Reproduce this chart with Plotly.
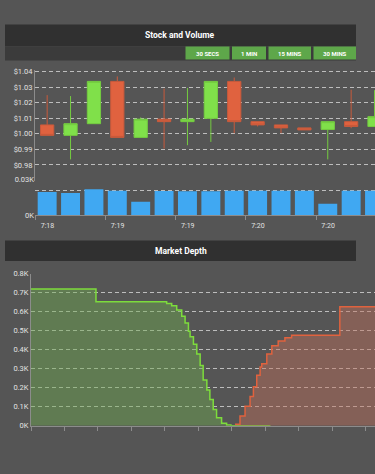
import plotly.graph_objects as go

W, H = 375, 474
BG = "#555555"

# ---------------- data ----------------
candle_open  = [1.0057, 0.9990, 1.0065, 1.0336, 0.9977, 1.0094, 1.0078, 1.0099, 1.0336, 1.0078, 1.0057, 1.0038, 1.0028, 1.0078, 1.0047]
candle_high  = [1.0248, 1.0242, 1.0336, 1.0368, 1.0105, 1.0290, 1.0294, 1.0336, 1.0361, 1.0078, 1.0057, 1.0038, 1.0078, 1.0283, 1.0280]
candle_low   = [0.9990, 0.9836, 1.0065, 0.9977, 0.9977, 0.9906, 0.9927, 0.9948, 1.0004, 1.0047, 1.0004, 1.0025, 0.9836, 1.0036, 1.0047]
candle_close = [0.9990, 1.0065, 1.0336, 0.9977, 1.0094, 1.0078, 1.0094, 1.0336, 1.0078, 1.0057, 1.0038, 1.0025, 1.0078, 1.0047, 1.0110]
volume       = [19.4, 18.6, 21.7, 20.6, 11.1, 20.3, 20.0, 20.0, 20.6, 20.6, 20.6, 20.6, 9.4, 20.6, 20.6]
time_labels  = ["7:18", "7:19", "7:19", "7:20", "7:20"]
time_label_candle = [0, 3, 6, 9, 12]

price_ticks = [0.98, 0.99, 1.00, 1.01, 1.02, 1.03, 1.04]
price_ticktext = ["$0.98", "$0.99", "$1.00", "$1.01", "$1.02", "$1.03", "$1.04"]
volume_ticks = [0, 21, 30]
volume_ticktext = ["0K", "", "0.03K"]

bid_price = [0.9500, 0.9694, 0.9885, 0.9905, 0.9920, 0.9935, 0.9950, 0.9960, 0.9970, 0.9975,
             0.9985, 0.9995, 1.0005, 1.0014, 1.0025, 1.0034, 1.0044, 1.0054, 1.0069, 1.0084,
             1.0097, 1.0213]
bid_depth = [720, 653, 653, 644, 632, 610, 576, 541, 498, 469,
             429, 378, 318, 241, 189, 138, 86, 43, 14, 4,
             1, 0]
ask_price = [1.0109, 1.0124, 1.0139, 1.0154, 1.0164, 1.0174, 1.0184, 1.0189, 1.0204, 1.0219,
             1.0238, 1.0258, 1.0278, 1.0422, 1.0560]
ask_depth = [9, 52, 103, 155, 206, 266, 309, 326, 378, 421,
             447, 464, 476, 627, 627]
depth_ticks = [0, 100, 200, 300, 400, 500, 600, 700, 800]
depth_ticktext = ["0K", "0.1K", "0.2K", "0.3K", "0.4K", "0.5K", "0.6K", "0.7K", "0.8K"]

buttons = ["30 SECS", "1 MIN", "15 MINS", "30 MINS"]

# ---------------- helpers ----------------
def px_x(p):
    return p / W

def px_y(p):
    return 1 - p / H

idx = list(range(len(candle_open)))
tick_pos = [i - 0.5 for i in time_label_candle]

GREEN = "#80e04a"
RED = "#e0623f"
BLUE = "#40a8f2"
GRID = "#bdbdbd"
LINE = "#8c8c8c"
TXT = "#e2e2e2"
FONT = "Roboto"

fig = go.Figure()

fig.add_trace(go.Candlestick(
    x=idx, open=candle_open, high=candle_high, low=candle_low, close=candle_close,
    increasing=dict(line=dict(color="#74cc40", width=1), fillcolor=GREEN),
    decreasing=dict(line=dict(color="#c85a3c", width=1), fillcolor=RED),
    xaxis="x", yaxis="y", showlegend=False, hoverinfo="skip",
))

fig.add_trace(go.Bar(
    x=idx, y=volume, marker=dict(color=BLUE, line=dict(width=0)),
    xaxis="x2", yaxis="y2", showlegend=False, hoverinfo="skip",
))

fig.add_trace(go.Scatter(
    x=bid_price, y=bid_depth, mode="lines", line=dict(color="#7ddc3c", width=1.5, shape="hv"),
    fill="tozeroy", fillcolor="rgba(110,170,80,0.45)",
    xaxis="x3", yaxis="y3", showlegend=False, hoverinfo="skip",
))
fig.add_trace(go.Scatter(
    x=ask_price, y=ask_depth, mode="lines", line=dict(color="#e0623e", width=1.5, shape="hv"),
    fill="tozeroy", fillcolor="rgba(190,110,90,0.45)",
    xaxis="x3", yaxis="y3", showlegend=False, hoverinfo="skip",
))

shapes = []
annotations = []

# header bars
shapes.append(dict(type="rect", xref="paper", yref="paper", x0=px_x(5), x1=px_x(356),
                   y0=px_y(43), y1=px_y(21), fillcolor="#303030", line=dict(width=0), layer="below"))
shapes.append(dict(type="rect", xref="paper", yref="paper", x0=px_x(5), x1=px_x(356),
                   y0=px_y(57.5), y1=px_y(43), fillcolor="#3b3b3b", line=dict(width=0), layer="below"))
shapes.append(dict(type="rect", xref="paper", yref="paper", x0=px_x(5), x1=px_x(356),
                   y0=px_y(262), y1=px_y(241), fillcolor="#303030", line=dict(width=0), layer="below"))

annotations.append(dict(text="<b>Stock and Volume</b>", xref="paper", yref="paper",
                        x=px_x(180), y=px_y(32), showarrow=False,
                        xanchor="center", yanchor="middle",
                        font=dict(family=FONT, size=8.5, color="#ffffff")))
annotations.append(dict(text="<b>Market Depth</b>", xref="paper", yref="paper",
                        x=px_x(181), y=px_y(251.5), showarrow=False,
                        xanchor="center", yanchor="middle",
                        font=dict(family=FONT, size=8.5, color="#ffffff")))

btn_x = [(185.5, 229.5), (232, 266), (268.5, 311), (313.5, 356)]
for label, (a, b) in zip(buttons, btn_x):
    shapes.append(dict(type="rect", xref="paper", yref="paper", x0=px_x(a), x1=px_x(b),
                       y0=px_y(56.7), y1=px_y(43.3), fillcolor="#5ea74a", line=dict(width=0)))
    annotations.append(dict(text="<b>" + label + "</b>", xref="paper", yref="paper",
                            x=px_x((a + b) / 2), y=px_y(50), showarrow=False,
                            xanchor="center", yanchor="middle",
                            font=dict(family=FONT, size=6, color="#ffffff")))

def tf(size=7.5):
    return dict(family=FONT, size=size, color=TXT)

fig.update_layout(
    width=W, height=H,
    margin=dict(l=0, r=0, t=0, b=0),
    paper_bgcolor=BG, plot_bgcolor=BG,
    showlegend=False,
    bargap=0.19, boxgap=0.19,
    shapes=shapes, annotations=annotations,
    xaxis=dict(domain=[px_x(35), 1], anchor="y", range=[-0.52, 14.02],
               showticklabels=False, showgrid=False, zeroline=False, ticks="",
               rangeslider=dict(visible=False)),
    yaxis=dict(domain=[px_y(180), px_y(67)], anchor="x", range=[0.97, 1.0411],
               tickvals=price_ticks, ticktext=price_ticktext,
               showgrid=True, gridcolor=GRID, griddash="4px,3px", gridwidth=1,
               showline=True, linecolor=LINE, zeroline=False, ticks="",
               tickfont=tf()),
    xaxis2=dict(domain=[px_x(35), 1], anchor="y2", matches="x", range=[-0.52, 14.02],
                tickvals=tick_pos, ticktext=time_labels, ticklabelshift=12,
                ticks="outside", ticklen=4, tickcolor=LINE,
                showline=True, linecolor=LINE, showgrid=False, zeroline=False,
                tickfont=tf(7)),
    yaxis2=dict(domain=[px_y(215), px_y(179)], anchor="x2", range=[0, 30],
                tickvals=volume_ticks, ticktext=volume_ticktext,
                showgrid=True, gridcolor=GRID, griddash="4px,3px", gridwidth=1,
                showline=False, zeroline=False, ticks="", tickfont=tf()),
    xaxis3=dict(domain=[px_x(31), 1], anchor="y3", range=[0.95, 1.0527],
                tick0=0.95, dtick=0.01, showticklabels=False,
                ticks="outside", ticklen=4, tickcolor=LINE,
                showline=True, linecolor=LINE, showgrid=False, zeroline=False),
    yaxis3=dict(domain=[px_y(430), px_y(275)], anchor="x3", range=[0, 800],
                tickvals=depth_ticks, ticktext=depth_ticktext,
                showgrid=True, gridcolor=GRID, griddash="4px,3px", gridwidth=1,
                showline=True, linecolor=LINE, zeroline=False, ticks="",
                tickfont=tf()),
)

fig.write_html(
    "out.html",
    config={"displayModeBar": False},
    post_script="document.body.style.margin='0';document.body.style.background='#555555';",
)
